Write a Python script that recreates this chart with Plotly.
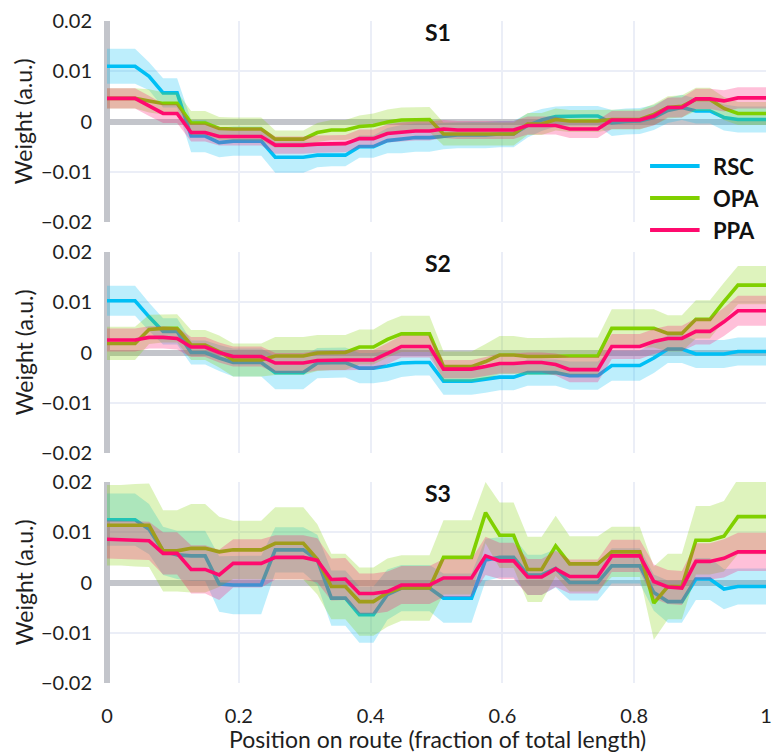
import plotly.graph_objects as go

# ---------------------------------------------------------------------------
# Data: mean weight and its error (half-width of the shaded band) sampled at
# 48 evenly spaced positions along the route, for three sessions.
# ---------------------------------------------------------------------------
N_POINTS = 48
POSITION = [i / (N_POINTS - 1) for i in range(N_POINTS)]

SESSIONS = ["S1", "S2", "S3"]
REGIONS = ["RSC", "OPA", "PPA"]

X_TICKS = [0, 0.2, 0.4, 0.6, 0.8, 1]
Y_TICKS = [-0.02, -0.01, 0, 0.01, 0.02]

# ----- S1 -----
S1_RSC_MEAN = [0.0110, 0.0110, 0.0110, 0.0090, 0.0057, 0.0057, -0.0029, -0.0029,
               -0.0042, -0.0039, -0.0039, -0.0039, -0.0071, -0.0071, -0.0071, -0.0067,
               -0.0067, -0.0067, -0.0050, -0.0050, -0.0038, -0.0035, -0.0032, -0.0032,
               -0.0029, -0.0027, -0.0027, -0.0027, -0.0025, -0.0025, -0.0008, 0.0003,
               0.0010, 0.0011, 0.0011, 0.0011, -0.0003, 0.0000, 0.0001, 0.0008,
               0.0022, 0.0028, 0.0021, 0.0021, 0.0008, 0.0004, 0.0004, 0.0004]
S1_RSC_ERR = [0.0035, 0.0035, 0.0035, 0.0028, 0.0029, 0.0029, 0.0032, 0.0032,
              0.0029, 0.0029, 0.0029, 0.0029, 0.0031, 0.0031, 0.0031, 0.0024,
              0.0022, 0.0022, 0.0022, 0.0022, 0.0025, 0.0028, 0.0028, 0.0028,
              0.0026, 0.0026, 0.0026, 0.0026, 0.0026, 0.0026, 0.0024, 0.0022,
              0.0020, 0.0020, 0.0020, 0.0020, 0.0026, 0.0026, 0.0026, 0.0025,
              0.0025, 0.0025, 0.0025, 0.0025, 0.0026, 0.0026, 0.0026, 0.0026]
S1_OPA_MEAN = [0.0046, 0.0046, 0.0046, 0.0041, 0.0036, 0.0036, -0.0003, -0.0003,
               -0.0014, -0.0015, -0.0015, -0.0015, -0.0035, -0.0035, -0.0035, -0.0022,
               -0.0017, -0.0017, -0.0010, -0.0008, -0.0001, 0.0003, 0.0004, 0.0004,
               -0.0025, -0.0025, -0.0025, -0.0025, -0.0025, -0.0025, -0.0005, -0.0005,
               0.0004, 0.0001, 0.0001, 0.0001, 0.0004, 0.0004, 0.0004, 0.0014,
               0.0028, 0.0030, 0.0044, 0.0044, 0.0026, 0.0016, 0.0016, 0.0016]
S1_OPA_ERR = [0.0020, 0.0020, 0.0020, 0.0023, 0.0022, 0.0022, 0.0024, 0.0024,
              0.0023, 0.0023, 0.0023, 0.0023, 0.0017, 0.0017, 0.0017, 0.0019,
              0.0020, 0.0020, 0.0022, 0.0024, 0.0025, 0.0025, 0.0025, 0.0025,
              0.0023, 0.0023, 0.0023, 0.0023, 0.0023, 0.0023, 0.0022, 0.0022,
              0.0022, 0.0022, 0.0022, 0.0022, 0.0020, 0.0020, 0.0020, 0.0021,
              0.0022, 0.0022, 0.0023, 0.0023, 0.0023, 0.0023, 0.0023, 0.0023]
S1_PPA_MEAN = [0.0046, 0.0046, 0.0046, 0.0031, 0.0016, 0.0016, -0.0022, -0.0022,
               -0.0030, -0.0030, -0.0030, -0.0030, -0.0047, -0.0047, -0.0047, -0.0045,
               -0.0044, -0.0044, -0.0034, -0.0034, -0.0024, -0.0021, -0.0019, -0.0019,
               -0.0015, -0.0017, -0.0017, -0.0017, -0.0017, -0.0017, -0.0008, -0.0008,
               -0.0008, -0.0015, -0.0015, -0.0015, 0.0003, 0.0003, 0.0003, 0.0011,
               0.0028, 0.0028, 0.0045, 0.0045, 0.0041, 0.0047, 0.0047, 0.0047]
S1_PPA_ERR = [0.0020, 0.0020, 0.0020, 0.0020, 0.0019, 0.0019, 0.0018, 0.0018,
              0.0018, 0.0018, 0.0018, 0.0018, 0.0017, 0.0017, 0.0017, 0.0017,
              0.0017, 0.0017, 0.0018, 0.0018, 0.0018, 0.0019, 0.0019, 0.0019,
              0.0018, 0.0018, 0.0018, 0.0018, 0.0018, 0.0018, 0.0018, 0.0018,
              0.0018, 0.0018, 0.0018, 0.0018, 0.0018, 0.0018, 0.0018, 0.0019,
              0.0020, 0.0020, 0.0020, 0.0020, 0.0021, 0.0021, 0.0021, 0.0021]

# ----- S2 -----
S2_RSC_MEAN = [0.0103, 0.0103, 0.0103, 0.0071, 0.0042, 0.0042, 0.0000, 0.0000,
               -0.0011, -0.0020, -0.0020, -0.0020, -0.0040, -0.0040, -0.0040, -0.0021,
               -0.0020, -0.0020, -0.0031, -0.0031, -0.0027, -0.0021, -0.0020, -0.0020,
               -0.0057, -0.0057, -0.0057, -0.0053, -0.0049, -0.0049, -0.0040, -0.0040,
               -0.0040, -0.0046, -0.0046, -0.0046, -0.0026, -0.0026, -0.0026, -0.0011,
               0.0007, 0.0007, -0.0003, -0.0003, -0.0003, 0.0002, 0.0002, 0.0002]
S2_RSC_ERR = [0.0030, 0.0030, 0.0030, 0.0028, 0.0026, 0.0026, 0.0024, 0.0024,
              0.0026, 0.0028, 0.0028, 0.0028, 0.0033, 0.0033, 0.0033, 0.0030,
              0.0030, 0.0030, 0.0030, 0.0030, 0.0030, 0.0028, 0.0026, 0.0026,
              0.0027, 0.0027, 0.0027, 0.0027, 0.0026, 0.0026, 0.0026, 0.0026,
              0.0026, 0.0028, 0.0028, 0.0028, 0.0030, 0.0030, 0.0030, 0.0030,
              0.0028, 0.0028, 0.0028, 0.0028, 0.0028, 0.0028, 0.0028, 0.0028]
S2_OPA_MEAN = [0.0018, 0.0018, 0.0018, 0.0046, 0.0048, 0.0048, 0.0015, 0.0015,
               0.0002, -0.0015, -0.0015, -0.0015, -0.0007, -0.0007, -0.0007, -0.0001,
               0.0000, 0.0000, 0.0011, 0.0011, 0.0026, 0.0037, 0.0037, 0.0037,
               -0.0028, -0.0028, -0.0028, -0.0018, -0.0005, -0.0005, -0.0008, -0.0008,
               -0.0007, -0.0007, -0.0007, -0.0007, 0.0048, 0.0048, 0.0048, 0.0048,
               0.0038, 0.0038, 0.0066, 0.0066, 0.0101, 0.0134, 0.0134, 0.0134]
S2_OPA_ERR = [0.0033, 0.0033, 0.0033, 0.0029, 0.0028, 0.0028, 0.0030, 0.0030,
              0.0032, 0.0033, 0.0033, 0.0033, 0.0038, 0.0038, 0.0038, 0.0036,
              0.0035, 0.0035, 0.0035, 0.0035, 0.0036, 0.0036, 0.0036, 0.0036,
              0.0030, 0.0030, 0.0030, 0.0035, 0.0038, 0.0038, 0.0037, 0.0037,
              0.0037, 0.0037, 0.0037, 0.0037, 0.0038, 0.0038, 0.0038, 0.0038,
              0.0036, 0.0036, 0.0038, 0.0038, 0.0038, 0.0038, 0.0038, 0.0038]
S2_PPA_MEAN = [0.0025, 0.0025, 0.0025, 0.0030, 0.0030, 0.0028, 0.0011, 0.0011,
               0.0000, -0.0008, -0.0008, -0.0008, -0.0021, -0.0021, -0.0021, -0.0016,
               -0.0015, -0.0015, -0.0015, -0.0015, -0.0002, 0.0012, 0.0012, 0.0012,
               -0.0033, -0.0033, -0.0033, -0.0028, -0.0022, -0.0022, -0.0020, -0.0020,
               -0.0024, -0.0034, -0.0034, -0.0034, 0.0012, 0.0012, 0.0012, 0.0022,
               0.0028, 0.0028, 0.0042, 0.0042, 0.0061, 0.0083, 0.0083, 0.0083]
S2_PPA_ERR = [0.0023, 0.0023, 0.0023, 0.0022, 0.0022, 0.0022, 0.0020, 0.0020,
              0.0020, 0.0020, 0.0020, 0.0020, 0.0020, 0.0020, 0.0020, 0.0020,
              0.0020, 0.0020, 0.0020, 0.0020, 0.0021, 0.0022, 0.0022, 0.0022,
              0.0018, 0.0018, 0.0018, 0.0019, 0.0020, 0.0020, 0.0020, 0.0020,
              0.0022, 0.0025, 0.0025, 0.0025, 0.0025, 0.0025, 0.0025, 0.0025,
              0.0025, 0.0025, 0.0026, 0.0026, 0.0028, 0.0030, 0.0030, 0.0030]

# ----- S3 -----
S3_RSC_MEAN = [0.0125, 0.0125, 0.0125, 0.0106, 0.0063, 0.0055, 0.0053, 0.0053,
               -0.0003, -0.0005, -0.0005, -0.0005, 0.0065, 0.0065, 0.0065, 0.0045,
               -0.0031, -0.0031, -0.0064, -0.0064, -0.0024, -0.0011, -0.0011, -0.0011,
               -0.0031, -0.0031, -0.0031, 0.0045, 0.0050, 0.0050, 0.0015, 0.0015,
               0.0028, 0.0000, 0.0000, 0.0000, 0.0033, 0.0033, 0.0033, -0.0020,
               -0.0038, -0.0038, 0.0007, 0.0007, -0.0013, -0.0008, -0.0008, -0.0008]
S3_RSC_ERR = [0.0052, 0.0052, 0.0052, 0.0050, 0.0048, 0.0048, 0.0050, 0.0050,
              0.0055, 0.0058, 0.0058, 0.0058, 0.0045, 0.0045, 0.0045, 0.0050,
              0.0055, 0.0055, 0.0056, 0.0056, 0.0050, 0.0046, 0.0046, 0.0046,
              0.0049, 0.0049, 0.0049, 0.0042, 0.0040, 0.0040, 0.0040, 0.0040,
              0.0038, 0.0036, 0.0036, 0.0036, 0.0035, 0.0035, 0.0035, 0.0036,
              0.0042, 0.0042, 0.0042, 0.0042, 0.0040, 0.0036, 0.0036, 0.0036]
S3_OPA_MEAN = [0.0114, 0.0114, 0.0114, 0.0114, 0.0063, 0.0063, 0.0068, 0.0068,
               0.0061, 0.0065, 0.0065, 0.0065, 0.0078, 0.0078, 0.0078, 0.0046,
               -0.0008, -0.0008, -0.0038, -0.0038, -0.0020, -0.0011, -0.0011, -0.0011,
               0.0050, 0.0050, 0.0050, 0.0139, 0.0094, 0.0094, 0.0026, 0.0026,
               0.0073, 0.0037, 0.0037, 0.0037, 0.0061, 0.0061, 0.0061, -0.0041,
               -0.0008, -0.0008, 0.0084, 0.0084, 0.0092, 0.0131, 0.0131, 0.0131]
S3_OPA_ERR = [0.0080, 0.0080, 0.0082, 0.0083, 0.0081, 0.0081, 0.0088, 0.0088,
              0.0070, 0.0058, 0.0058, 0.0058, 0.0072, 0.0072, 0.0072, 0.0070,
              0.0065, 0.0065, 0.0068, 0.0068, 0.0068, 0.0065, 0.0065, 0.0065,
              0.0074, 0.0074, 0.0074, 0.0061, 0.0065, 0.0065, 0.0065, 0.0065,
              0.0060, 0.0055, 0.0055, 0.0055, 0.0050, 0.0050, 0.0050, 0.0073,
              0.0065, 0.0065, 0.0068, 0.0068, 0.0070, 0.0075, 0.0075, 0.0075]
S3_PPA_MEAN = [0.0086, 0.0085, 0.0084, 0.0083, 0.0058, 0.0058, 0.0026, 0.0026,
               0.0015, 0.0038, 0.0038, 0.0038, 0.0050, 0.0050, 0.0050, 0.0044,
               0.0006, 0.0007, -0.0022, -0.0022, -0.0018, -0.0005, -0.0005, -0.0005,
               0.0009, 0.0009, 0.0009, 0.0053, 0.0043, 0.0043, 0.0011, 0.0011,
               0.0027, 0.0012, 0.0012, 0.0012, 0.0053, 0.0053, 0.0053, 0.0002,
               -0.0009, -0.0011, 0.0042, 0.0042, 0.0048, 0.0061, 0.0061, 0.0061]
S3_PPA_ERR = [0.0038, 0.0038, 0.0038, 0.0038, 0.0042, 0.0042, 0.0048, 0.0048,
              0.0050, 0.0048, 0.0048, 0.0048, 0.0044, 0.0044, 0.0044, 0.0044,
              0.0042, 0.0042, 0.0040, 0.0040, 0.0040, 0.0038, 0.0038, 0.0038,
              0.0038, 0.0038, 0.0038, 0.0038, 0.0036, 0.0036, 0.0036, 0.0036,
              0.0036, 0.0034, 0.0034, 0.0034, 0.0032, 0.0032, 0.0032, 0.0034,
              0.0034, 0.0034, 0.0036, 0.0036, 0.0038, 0.0038, 0.0038, 0.0038]

SERIES = {
    "S1": {"RSC": (S1_RSC_MEAN, S1_RSC_ERR), "OPA": (S1_OPA_MEAN, S1_OPA_ERR),
           "PPA": (S1_PPA_MEAN, S1_PPA_ERR)},
    "S2": {"RSC": (S2_RSC_MEAN, S2_RSC_ERR), "OPA": (S2_OPA_MEAN, S2_OPA_ERR),
           "PPA": (S2_PPA_MEAN, S2_PPA_ERR)},
    "S3": {"RSC": (S3_RSC_MEAN, S3_RSC_ERR), "OPA": (S3_OPA_MEAN, S3_OPA_ERR),
           "PPA": (S3_PPA_MEAN, S3_PPA_ERR)},
}

# ---------------------------------------------------------------------------
# Styling
# ---------------------------------------------------------------------------
LINE_COLOR = {"RSC": "rgb(0,191,245)", "OPA": "rgb(128,208,0)", "PPA": "rgb(255,10,110)"}
BAND_COLOR = {"RSC": "rgba(0,191,245,0.26)", "OPA": "rgba(128,208,0,0.26)",
              "PPA": "rgba(255,10,110,0.26)"}
GRID = "#ebeef7"
AXIS_GREY = "#c3c5cb"
TEXT = "#1e1e1e"
FONT = "Lato"
TICK_SIZE = 20
TITLE_SIZE = 23

W, H = 772, 755
M_L, M_R, M_T, M_B = 107, 0, 21, 72
PLOT_H = H - M_T - M_B

# vertical extent (pixels from top) of each panel
PANEL_PX = [(21, 222), (252, 453), (482, 683)]


def py(px):
    """Convert a pixel row to paper y."""
    return (H - M_B - px) / PLOT_H


def pxx(px):
    """Convert a pixel column to paper x."""
    return (px - M_L) / (W - M_L - M_R)


fig = go.Figure()

for row, session in enumerate(SESSIONS, start=1):
    suffix = "" if row == 1 else str(row)
    for region in REGIONS:
        mean, err = SERIES[session][region]
        upper = [m + e for m, e in zip(mean, err)]
        lower = [m - e for m, e in zip(mean, err)]
        fig.add_trace(go.Scatter(
            x=POSITION + POSITION[::-1],
            y=upper + lower[::-1],
            fill="toself", fillcolor=BAND_COLOR[region],
            line=dict(width=0), mode="lines", hoverinfo="skip",
            showlegend=False, xaxis="x" + suffix, yaxis="y" + suffix,
        ))
        fig.add_trace(go.Scatter(
            x=POSITION, y=mean, mode="lines", name=region,
            line=dict(color=LINE_COLOR[region], width=3.6),
            showlegend=False, xaxis="x" + suffix, yaxis="y" + suffix,
        ))

layout = dict(
    autosize=True,
    margin=dict(l=M_L, r=M_R, t=M_T, b=M_B, pad=0),
    paper_bgcolor="white", plot_bgcolor="white",
    font=dict(family=FONT, color=TEXT, size=TICK_SIZE),
    showlegend=False,
)

for row in range(1, 4):
    suffix = "" if row == 1 else str(row)
    top_px, bot_px = PANEL_PX[row - 1]
    layout["xaxis" + suffix] = dict(
        domain=[0, 1], range=[0, 1], anchor="y" + suffix,
        tickvals=X_TICKS, ticktext=[("%g" % v) for v in X_TICKS],
        showticklabels=(row == 3), ticks="", ticklabelstandoff=19,
        ticklabeloverflow="allow",
        tickfont=dict(size=TICK_SIZE, family=FONT, color=TEXT),
        showgrid=True, gridcolor=GRID, gridwidth=1.6,
        zeroline=True, zerolinecolor=AXIS_GREY, zerolinewidth=6,
        showline=False, fixedrange=True,
    )
    layout["yaxis" + suffix] = dict(
        domain=[py(bot_px), py(top_px)], range=[-0.02, 0.02], anchor="x" + suffix,
        tickvals=Y_TICKS, ticks="", ticklabelstandoff=14,
        tickfont=dict(size=TICK_SIZE, family=FONT, color=TEXT),
        showgrid=True, gridcolor=GRID, gridwidth=1.6,
        zeroline=True, zerolinecolor=AXIS_GREY, zerolinewidth=6,
        showline=False, fixedrange=True,
    )

annotations = []
shapes = []
for row, session in enumerate(SESSIONS, start=1):
    top_px, bot_px = PANEL_PX[row - 1]
    annotations.append(dict(
        text="<b>%s</b>" % session, xref="paper", yref="paper",
        x=pxx(441), y=py(top_px), xanchor="center", yanchor="top", yshift=5,
        showarrow=False, font=dict(size=23, family=FONT, color="#111"),
    ))
    annotations.append(dict(
        text="Weight (a.u.)", xref="paper", yref="paper", textangle=-90,
        x=pxx(23), y=py((top_px + bot_px) / 2), xanchor="center", yanchor="middle",
        showarrow=False, font=dict(size=TITLE_SIZE, family=FONT, color=TEXT),
    ))

annotations.append(dict(
    text="Position on route (fraction of total length)", xref="paper", yref="paper",
    x=pxx(441), y=py(739), xanchor="center", yanchor="middle",
    showarrow=False, font=dict(size=TITLE_SIZE, family=FONT, color=TEXT),
))

# legend block inside the first panel
shapes.append(dict(type="rect", xref="paper", yref="paper", layer="above",
                   x0=pxx(645), x1=1.0, y0=py(246), y1=py(150),
                   fillcolor="white", line=dict(width=0)))
for k, region in enumerate(REGIONS):
    yk = py(166 + 32 * k)
    shapes.append(dict(type="line", xref="paper", yref="paper", layer="above",
                       x0=pxx(655), x1=pxx(705), y0=yk, y1=yk,
                       line=dict(color=LINE_COLOR[region], width=4)))
    annotations.append(dict(
        text="<b>%s</b>" % region, xref="paper", yref="paper",
        x=pxx(716), y=yk, xanchor="left", yanchor="middle",
        showarrow=False, font=dict(size=22, family=FONT, color="#111"),
    ))

layout["annotations"] = annotations
layout["shapes"] = shapes
fig.update_layout(**layout)

fig.write_html("out.html", config={"displayModeBar": False, "responsive": True})
